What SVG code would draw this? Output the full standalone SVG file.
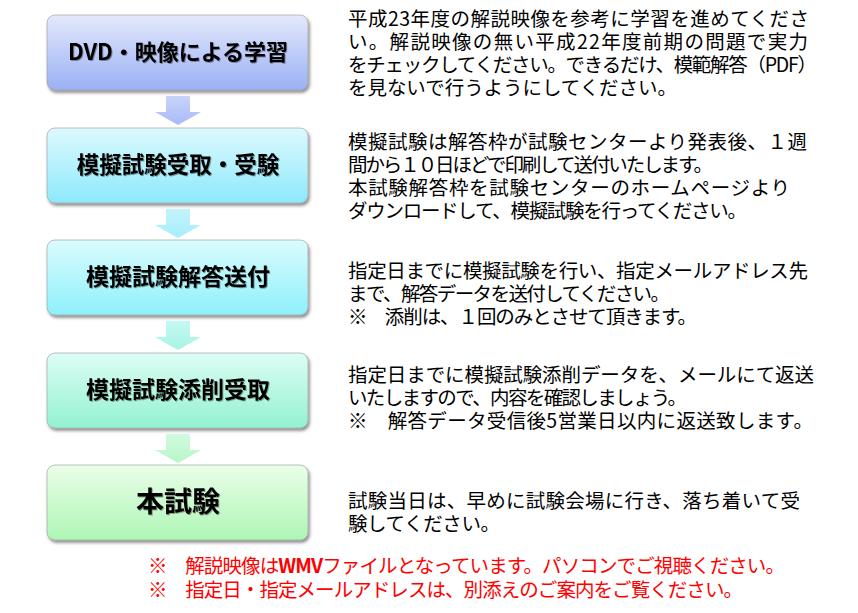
<svg xmlns="http://www.w3.org/2000/svg" width="858" height="613" viewBox="0 0 858 613">
<defs>
<style>
.box{stroke:#9a9a9a;stroke-opacity:0.6;stroke-width:1;filter:url(#sh)}
.lbl{font-family:"Noto Sans CJK JP","Noto Sans",sans-serif;font-weight:bold;fill:#000;text-anchor:middle;filter:url(#tsh)}
.note{font-family:"Noto Sans CJK JP","Noto Sans",sans-serif;font-size:19.5px;fill:#000}
.red{font-family:"Noto Sans CJK JP","Noto Sans",sans-serif;font-size:19.5px;fill:#ff0000}
.arr{stroke:none}
</style>
<filter id="sh" x="-10%" y="-20%" width="125%" height="150%">
<feDropShadow dx="1.5" dy="2.5" stdDeviation="1.5" flood-color="#000" flood-opacity="0.45"/>
</filter>
<filter id="tsh" x="-10%" y="-30%" width="120%" height="160%">
<feDropShadow dx="1" dy="1" stdDeviation="0.6" flood-color="#000" flood-opacity="0.35"/>
</filter>
<linearGradient id="g1" x1="0" y1="0" x2="0" y2="1"><stop offset="0" stop-color="#e4e9fc"/><stop offset="1" stop-color="#9bb0f5"/></linearGradient>
<linearGradient id="g2" x1="0" y1="0" x2="0" y2="1"><stop offset="0" stop-color="#ddf9fe"/><stop offset="1" stop-color="#8de9fb"/></linearGradient>
<linearGradient id="g3" x1="0" y1="0" x2="0" y2="1"><stop offset="0" stop-color="#dbfcfe"/><stop offset="1" stop-color="#8ef0fb"/></linearGradient>
<linearGradient id="g4" x1="0" y1="0" x2="0" y2="1"><stop offset="0" stop-color="#ddfdf4"/><stop offset="1" stop-color="#93f2d2"/></linearGradient>
<linearGradient id="g5" x1="0" y1="0" x2="0" y2="1"><stop offset="0" stop-color="#eafee9"/><stop offset="1" stop-color="#adf6b5"/></linearGradient>
<linearGradient id="a1" x1="0" y1="0" x2="0" y2="1"><stop offset="0" stop-color="#c9d4f9"/><stop offset="1" stop-color="#a9baf6"/></linearGradient>
<linearGradient id="a2" x1="0" y1="0" x2="0" y2="1"><stop offset="0" stop-color="#c4f3fc"/><stop offset="1" stop-color="#a6eefb"/></linearGradient>
<linearGradient id="a3" x1="0" y1="0" x2="0" y2="1"><stop offset="0" stop-color="#c4f8f2"/><stop offset="1" stop-color="#a8f3e4"/></linearGradient>
<linearGradient id="a4" x1="0" y1="0" x2="0" y2="1"><stop offset="0" stop-color="#d2fadf"/><stop offset="1" stop-color="#b7f6c8"/></linearGradient>
</defs>
<rect width="858" height="613" fill="#ffffff"/>

<g id="connectors">
<path class="arr" fill="url(#a1)" d="M166,96 H190 V112 H201 L178,125 L155,112 H166 Z"/>
<path class="arr" fill="url(#a2)" d="M166,209 H190 V225 H201 L178,238 L155,225 H166 Z"/>
<path class="arr" fill="url(#a3)" d="M166,321 H190 V337 H201 L178,350 L155,337 H166 Z"/>
<path class="arr" fill="url(#a4)" d="M166,434 H190 V450 H201 L178,463 L155,450 H166 Z"/>
</g>

<g id="node1">
<rect class="box" x="47" y="15" width="261" height="75" rx="8" fill="url(#g1)"/>
<text class="lbl" x="178" y="60" font-size="22">DVD・映像による学習</text>
</g>
<g id="node2">
<rect class="box" x="47" y="128" width="261" height="75" rx="8" fill="url(#g2)"/>
<text class="lbl" x="178" y="173" font-size="22.5">模擬試験受取・受験</text>
</g>
<g id="node3">
<rect class="box" x="47" y="240" width="261" height="75" rx="8" fill="url(#g3)"/>
<text class="lbl" x="178" y="285" font-size="23">模擬試験解答送付</text>
</g>
<g id="node4">
<rect class="box" x="47" y="353" width="261" height="75" rx="8" fill="url(#g4)"/>
<text class="lbl" x="178" y="398" font-size="23">模擬試験添削受取</text>
</g>
<g id="node5">
<rect class="box" x="47" y="465" width="261" height="75" rx="8" fill="url(#g5)"/>
<text class="lbl" x="178" y="512" font-size="28">本試験</text>
</g>

<g id="note1">
<text class="note" x="348" y="26" textLength="461">平成23年度の解説映像を参考に学習を進めてくださ</text>
<text class="note" x="348" y="49" textLength="460">い。解説映像の無い平成22年度前期の問題で実力</text>
<text class="note" x="348" y="72" textLength="469">をチェックしてください。できるだけ、模範解答（PDF）</text>
<text class="note" x="348" y="95" textLength="329">を見ないで行うようにしてください。</text>
</g>
<g id="note2">
<text class="note" x="348" y="149" textLength="459">模擬試験は解答枠が試験センターより発表後、１週</text>
<text class="note" x="348" y="172" textLength="365">間から１０日ほどで印刷して送付いたします。</text>
<text class="note" x="348" y="195" textLength="442">本試験解答枠を試験センターのホームページより</text>
<text class="note" x="348" y="218" textLength="399">ダウンロードして、模擬試験を行ってください。</text>
</g>
<g id="note3">
<text class="note" x="348" y="278" textLength="460">指定日までに模擬試験を行い、指定メールアドレス先</text>
<text class="note" x="348" y="301" textLength="322">まで、解答データを送付してください。</text>
<text class="note" x="348" y="324" textLength="349">※　添削は、１回のみとさせて頂きます。</text>
</g>
<g id="note4">
<text class="note" x="348" y="382" textLength="466">指定日までに模擬試験添削データを、メールにて返送</text>
<text class="note" x="348" y="405" textLength="339">いたしますので、内容を確認しましょう。</text>
<text class="note" x="348" y="428" textLength="465">※　解答データ受信後5営業日以内に返送致します。</text>
</g>
<g id="note5">
<text class="note" x="348" y="508" textLength="452">試験当日は、早めに試験会場に行き、落ち着いて受</text>
<text class="note" x="348" y="531" textLength="152">験してください。</text>
</g>
<g id="footnotes">
<text class="red" x="148" y="573" textLength="637">※　解説映像は<tspan font-weight="bold">WMV</tspan>ファイルとなっています。パソコンでご視聴ください。</text>
<text class="red" x="148" y="597" textLength="595">※　指定日・指定メールアドレスは、別添えのご案内をご覧ください。</text>
</g>
</svg>
